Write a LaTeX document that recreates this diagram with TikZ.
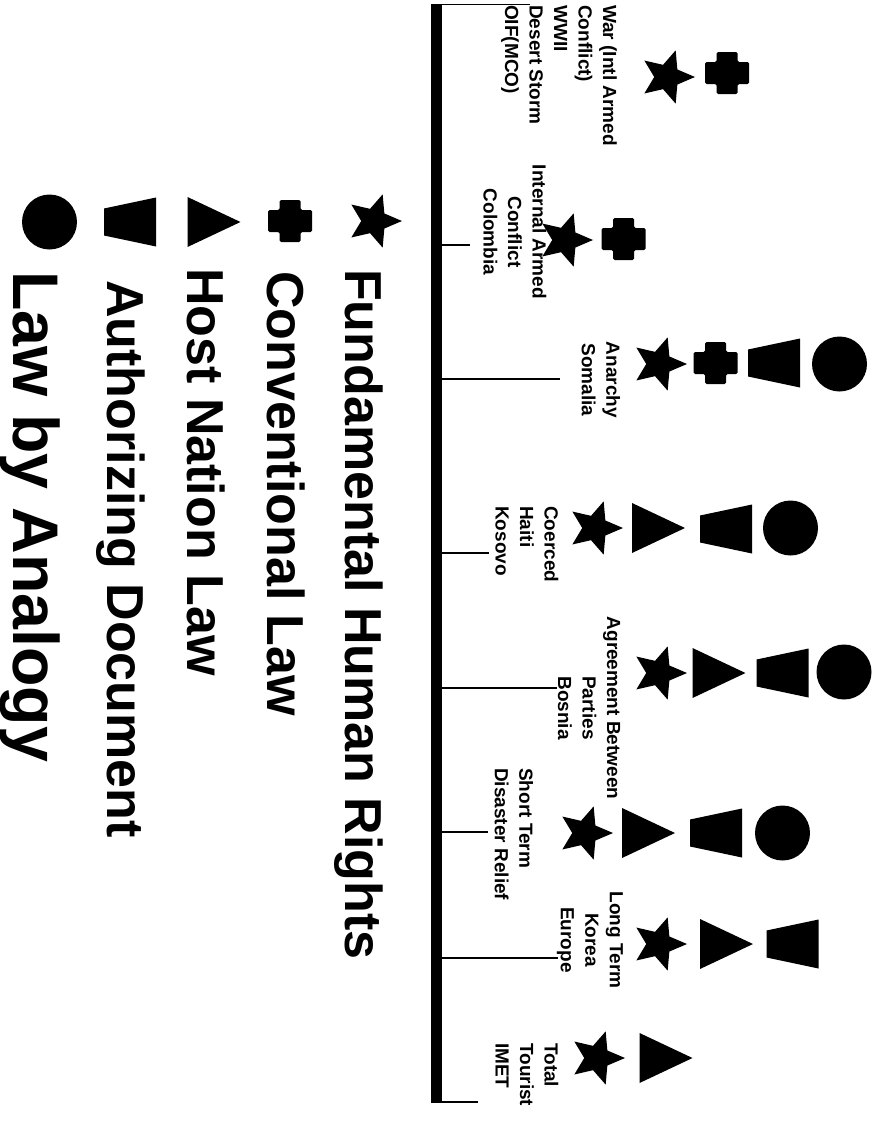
\documentclass[tikz,border=0pt]{standalone}
\usepackage{fontspec}
\setmainfont{Liberation Sans}
\tikzset{
  lbl/.style={font=\bfseries\fontsize{19}{24.5}\selectfont, rotate=-90, inner sep=0pt},
  leg/.style={font=\bfseries\fontsize{52}{60}\selectfont, rotate=-90, inner sep=0pt, anchor=base west},
  legbig/.style={leg, font=\bfseries\fontsize{64.5}{70}\selectfont},
  tick/.style={line width=1.1pt},
  starsym/.pic={\fill (0:28) -- (36:12.8) -- (72:28) -- (108:12.8) -- (144:28) -- (180:12.8) -- (216:28) -- (252:12.8) -- (288:28) -- (324:12.8) -- cycle;},
  crosssym/.pic={\fill[rounded corners=1.5pt] (-10.5,-21) -- (10.5,-21) -- (10.5,-11) -- (22,-11) -- (22,11) -- (10.5,11) -- (10.5,21) -- (-10.5,21) -- (-10.5,11) -- (-22,11) -- (-22,-11) -- (-10.5,-11) -- cycle;},
  trisym/.pic={\fill (-26.5,-25) -- (26.5,0) -- (-26.5,25) -- cycle;},
  trapsym/.pic={\fill (-26,-13.5) -- (26,-24.5) -- (26,24.5) -- (-26,13.5) -- cycle;},
  circsym/.pic={\fill (0,0) circle[radius=27.5];}
}
\begin{document}
\begin{tikzpicture}[x=1pt,y=-1pt]
\useasboundingbox (0,0) rectangle (874,1127);

% main bar
\coordinate (bartop) at (436.5,4);
\coordinate (barbot) at (436.5,1103);
\draw[line width=11pt] (bartop) -- (barbot);

% tick ends
\coordinate (e0) at (530,4.5);
\coordinate (e1) at (470,245);
\coordinate (e2) at (560,379);
\coordinate (e3) at (489,553);
\coordinate (e4) at (557,688);
\coordinate (e5) at (488,832);
\coordinate (e6) at (558,958);
\coordinate (e7) at (478,1102);
\foreach \e in {e0,e1,e2,e3,e4,e5,e6,e7}
  \draw[tick] (\e -| bartop) -- (\e);

% labels
\node[lbl, align=left, anchor=west] (war) at (559,5) {War (Intl Armed\\Conflict)\\WWII\\Desert Storm\\OIF(MCO)};
\node[lbl, align=center] (col) at (515,232) {Internal Armed\\Conflict\\Colombia};
\node[lbl, align=center] (ana) at (601,380) {Anarchy\\Somalia};
\node[lbl, align=left, anchor=west] (coe) at (527,506) {Coerced\\Haiti\\Kosovo};
\node[lbl, align=center] (agr) at (589,708) {Agreement Between\\Parties\\Bosnia};
\node[lbl, align=left, anchor=west] (sho) at (514,768) {Short Term\\Disaster Relief};
\node[lbl, align=center] (lon) at (590,940) {Long Term\\Korea\\Europe};
\node[lbl, align=left, anchor=west] (tot) at (527,1043) {Total\\Tourist\\IMET};

% symbols in chart
\pic at (667,77) {starsym};  \pic at (727,73) {crosssym};
\pic at (565,240) {starsym}; \pic at (623.5,239) {crosssym};
\pic at (659,364) {starsym}; \pic at (715.5,363) {crosssym}; \pic at (774,363) {trapsym}; \pic at (839.5,364) {circsym};
\pic at (595,528) {starsym}; \pic at (658.5,528) {trisym}; \pic at (726,529) {trapsym}; \pic at (790.5,528) {circsym};
\pic at (659,673) {starsym}; \pic at (719,673) {trisym}; \pic at (782.5,673) {trapsym}; \pic at (844,672) {circsym};
\pic at (585,833) {starsym}; \pic at (648.5,833) {trisym}; \pic at (716,833) {trapsym}; \pic at (782.5,833) {circsym};
\pic at (659,944) {starsym}; \pic at (726.5,944) {trisym}; \pic at (792.5,944) {trapsym};
\pic at (597,1058) {starsym}; \pic at (666,1058) {trisym};

% legend
\pic at (374,221) {starsym};
\pic at (290,221) {crosssym};
\pic at (214,222) {trisym};
\pic at (130,222) {trapsym};
\pic at (49.5,222) {circsym};
\node[leg] (l1) at (345,269) {Fundamental Human Rights};
\node[leg] (l2) at (267,271) {Conventional Law};
\node[leg] (l3) at (187,268) {Host Nation Law};
\node[leg] (l4) at (107,280) {Authorizing Document};
\node[legbig] (l5) at (13,271) {Law by Analogy};
\end{tikzpicture}
\end{document}
